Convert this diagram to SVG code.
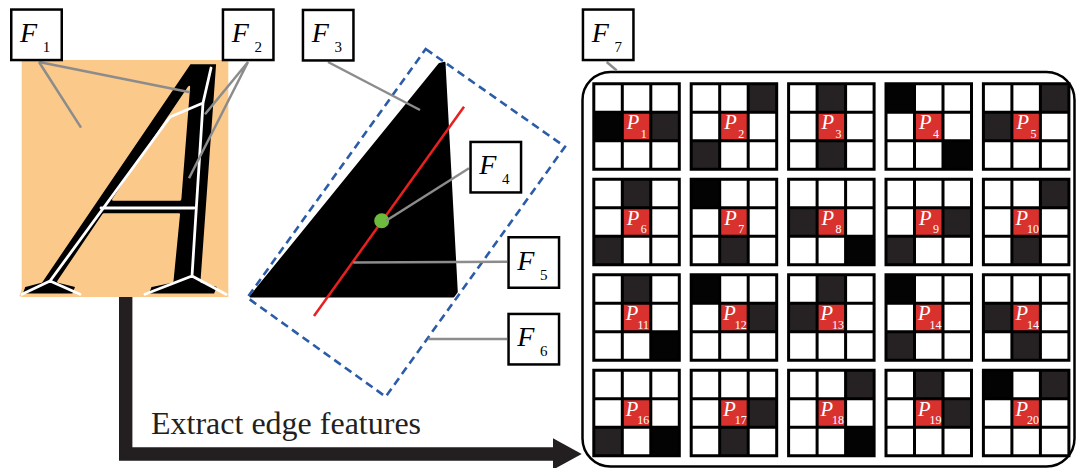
<svg xmlns="http://www.w3.org/2000/svg" xmlns:xlink="http://www.w3.org/1999/xlink" width="1076" height="468" viewBox="0 0 1076 468">
  <style>
    .box { fill: #fff; stroke: #000; stroke-width: 2.5; }
    .fl { font-family: "Liberation Serif", "Times New Roman", serif; font-style: italic; font-size: 28px; fill: #000; }
    .fs { font-style: normal; font-size: 15px; text-anchor: middle; }
    .lead { stroke: #8c8c8c; stroke-width: 2.5; fill: none; }
    .skel { stroke: #fff; stroke-width: 2.8; fill: none; stroke-linejoin: round; stroke-linecap: round; }
    .w { fill: #fff; }
    .d { fill: #262223; }
    .k { fill: #030303; }
    .c { fill: #d8312e; }
    .pl { font-family: "Liberation Serif", "Times New Roman", serif; font-style: italic; font-size: 20.5px; fill: #fff; }
    .ps { font-style: normal; font-size: 12px; text-anchor: middle; }
  </style>
  <defs>
    <!-- 3x3 cell frame of one pattern block -->
    <path id="grid" d="M0,0H85.5V85.5H0Z M28.5,0V85.5 M57,0V85.5 M0,28.5H85.5 M0,57H85.5" fill="none" stroke="#000" stroke-width="3"/>
    <!-- label box frame -->
    <rect id="lbox" class="box" x="1.25" y="1.25" width="50.5" height="50.5"/>
  </defs>

  <rect width="1076" height="468" fill="#fff"/>

  <!-- glyph with its skeleton; the orange stroke slims the glyph a little -->
  <g id="letter-A">
    <rect x="21.7" y="60" width="206.6" height="237" fill="#fbc98a"/>
    <text transform="matrix(0.83,0,-0.235,1,36.9,295)" font-family="Liberation Serif, Times New Roman, serif" font-style="italic" font-size="352" fill="#000" stroke="#fbc98a" stroke-width="3" stroke-linejoin="round">A</text>
    <path class="skel" d="M50,281 L170,117 L203,103 L211,68 M203,103 L192,276 M101,208 H194 M50,281 L22,294.3 M50,281 L80,294.3 M192,276 L145,294.3 M192,276 L226,294.3"/>
  </g>

  <!-- stroke region, its axis, centre and bounding box -->
  <g id="stroke-shape">
    <polygon points="439.5,64 444.5,62.8 456.8,292 453.5,296.5 250.5,296.5" fill="#000" stroke="#000" stroke-width="2" stroke-linejoin="round"/>
    <line x1="314" y1="316" x2="464" y2="106.7" stroke="#e8201f" stroke-width="2.5"/>
    <circle cx="381.7" cy="220.7" r="7.5" fill="#6cbb3c"/>
    <polygon points="425.7,49 565,146.7 385.7,396.7 247.3,297.7" fill="none" stroke="#2b5ca8" stroke-width="2.6" stroke-dasharray="8,5"/>
  </g>

  <!-- pattern panel -->
  <g id="pattern-panel">
    <rect x="582.5" y="72" width="492" height="394.5" rx="28" ry="28" fill="none" stroke="#000" stroke-width="2.5"/>

    <g id="pat-01" transform="translate(593.8,83.8)">
      <rect class="w" width="85.5" height="85.5"/>
      <rect class="k" x="0" y="28.5" width="28.5" height="28.5"/>
      <rect class="d" x="57" y="28.5" width="28.5" height="28.5"/>
      <rect class="c" x="28.5" y="28.5" width="28.5" height="28.5"/>
      <use xlink:href="#grid"/>
      <text class="pl" x="33" y="45.5">P<tspan class="ps" x="50" y="54">1</tspan></text>
    </g>
    <g id="pat-02" transform="translate(691.2,83.8)">
      <rect class="w" width="85.5" height="85.5"/>
      <rect class="d" x="57" y="0" width="28.5" height="28.5"/>
      <rect class="d" x="0" y="57" width="28.5" height="28.5"/>
      <rect class="c" x="28.5" y="28.5" width="28.5" height="28.5"/>
      <use xlink:href="#grid"/>
      <text class="pl" x="33" y="45.5">P<tspan class="ps" x="50" y="54">2</tspan></text>
    </g>
    <g id="pat-03" transform="translate(788.6,83.8)">
      <rect class="w" width="85.5" height="85.5"/>
      <rect class="d" x="28.5" y="0" width="28.5" height="28.5"/>
      <rect class="d" x="28.5" y="57" width="28.5" height="28.5"/>
      <rect class="c" x="28.5" y="28.5" width="28.5" height="28.5"/>
      <use xlink:href="#grid"/>
      <text class="pl" x="33" y="45.5">P<tspan class="ps" x="50" y="54">3</tspan></text>
    </g>
    <g id="pat-04" transform="translate(886,83.8)">
      <rect class="w" width="85.5" height="85.5"/>
      <rect class="k" x="0" y="0" width="28.5" height="28.5"/>
      <rect class="k" x="57" y="57" width="28.5" height="28.5"/>
      <rect class="c" x="28.5" y="28.5" width="28.5" height="28.5"/>
      <use xlink:href="#grid"/>
      <text class="pl" x="33" y="45.5">P<tspan class="ps" x="50" y="54">4</tspan></text>
    </g>
    <g id="pat-05" transform="translate(983.4,83.8)">
      <rect class="w" width="85.5" height="85.5"/>
      <rect class="d" x="57" y="0" width="28.5" height="28.5"/>
      <rect class="d" x="0" y="28.5" width="28.5" height="28.5"/>
      <rect class="c" x="28.5" y="28.5" width="28.5" height="28.5"/>
      <use xlink:href="#grid"/>
      <text class="pl" x="33" y="45.5">P<tspan class="ps" x="50" y="54">5</tspan></text>
    </g>

    <g id="pat-06" transform="translate(593.8,179.3)">
      <rect class="w" width="85.5" height="85.5"/>
      <rect class="d" x="28.5" y="0" width="28.5" height="28.5"/>
      <rect class="d" x="0" y="57" width="28.5" height="28.5"/>
      <rect class="c" x="28.5" y="28.5" width="28.5" height="28.5"/>
      <use xlink:href="#grid"/>
      <text class="pl" x="33" y="45.5">P<tspan class="ps" x="50" y="54">6</tspan></text>
    </g>
    <g id="pat-07" transform="translate(691.2,179.3)">
      <rect class="w" width="85.5" height="85.5"/>
      <rect class="k" x="0" y="0" width="28.5" height="28.5"/>
      <rect class="d" x="28.5" y="57" width="28.5" height="28.5"/>
      <rect class="c" x="28.5" y="28.5" width="28.5" height="28.5"/>
      <use xlink:href="#grid"/>
      <text class="pl" x="33" y="45.5">P<tspan class="ps" x="50" y="54">7</tspan></text>
    </g>
    <g id="pat-08" transform="translate(788.6,179.3)">
      <rect class="w" width="85.5" height="85.5"/>
      <rect class="d" x="0" y="28.5" width="28.5" height="28.5"/>
      <rect class="k" x="57" y="57" width="28.5" height="28.5"/>
      <rect class="c" x="28.5" y="28.5" width="28.5" height="28.5"/>
      <use xlink:href="#grid"/>
      <text class="pl" x="33" y="45.5">P<tspan class="ps" x="50" y="54">8</tspan></text>
    </g>
    <g id="pat-09" transform="translate(886,179.3)">
      <rect class="w" width="85.5" height="85.5"/>
      <rect class="d" x="57" y="28.5" width="28.5" height="28.5"/>
      <rect class="d" x="0" y="57" width="28.5" height="28.5"/>
      <rect class="c" x="28.5" y="28.5" width="28.5" height="28.5"/>
      <use xlink:href="#grid"/>
      <text class="pl" x="33" y="45.5">P<tspan class="ps" x="50" y="54">9</tspan></text>
    </g>
    <g id="pat-10" transform="translate(983.4,179.3)">
      <rect class="w" width="85.5" height="85.5"/>
      <rect class="d" x="57" y="0" width="28.5" height="28.5"/>
      <rect class="d" x="28.5" y="57" width="28.5" height="28.5"/>
      <rect class="c" x="28.5" y="28.5" width="28.5" height="28.5"/>
      <use xlink:href="#grid"/>
      <text class="pl" x="32" y="45.5">P<tspan class="ps" x="49.5" y="54">10</tspan></text>
    </g>

    <g id="pat-11" transform="translate(593.8,274.8)">
      <rect class="w" width="85.5" height="85.5"/>
      <rect class="d" x="28.5" y="0" width="28.5" height="28.5"/>
      <rect class="k" x="57" y="57" width="28.5" height="28.5"/>
      <rect class="c" x="28.5" y="28.5" width="28.5" height="28.5"/>
      <use xlink:href="#grid"/>
      <text class="pl" x="32" y="45.5">P<tspan class="ps" x="49.5" y="54">11</tspan></text>
    </g>
    <g id="pat-12" transform="translate(691.2,274.8)">
      <rect class="w" width="85.5" height="85.5"/>
      <rect class="k" x="0" y="0" width="28.5" height="28.5"/>
      <rect class="d" x="57" y="28.5" width="28.5" height="28.5"/>
      <rect class="c" x="28.5" y="28.5" width="28.5" height="28.5"/>
      <use xlink:href="#grid"/>
      <text class="pl" x="32" y="45.5">P<tspan class="ps" x="49.5" y="54">12</tspan></text>
    </g>
    <g id="pat-13" transform="translate(788.6,274.8)">
      <rect class="w" width="85.5" height="85.5"/>
      <rect class="d" x="28.5" y="0" width="28.5" height="28.5"/>
      <rect class="d" x="0" y="28.5" width="28.5" height="28.5"/>
      <rect class="c" x="28.5" y="28.5" width="28.5" height="28.5"/>
      <use xlink:href="#grid"/>
      <text class="pl" x="32" y="45.5">P<tspan class="ps" x="49.5" y="54">13</tspan></text>
    </g>
    <g id="pat-14" transform="translate(886,274.8)">
      <rect class="w" width="85.5" height="85.5"/>
      <rect class="k" x="0" y="0" width="28.5" height="28.5"/>
      <rect class="d" x="0" y="57" width="28.5" height="28.5"/>
      <rect class="c" x="28.5" y="28.5" width="28.5" height="28.5"/>
      <use xlink:href="#grid"/>
      <text class="pl" x="32" y="45.5">P<tspan class="ps" x="49.5" y="54">14</tspan></text>
    </g>
    <g id="pat-15" transform="translate(983.4,274.8)">
      <rect class="w" width="85.5" height="85.5"/>
      <rect class="d" x="0" y="28.5" width="28.5" height="28.5"/>
      <rect class="d" x="28.5" y="57" width="28.5" height="28.5"/>
      <rect class="c" x="28.5" y="28.5" width="28.5" height="28.5"/>
      <use xlink:href="#grid"/>
      <text class="pl" x="32" y="45.5">P<tspan class="ps" x="49.5" y="54">14</tspan></text>
    </g>

    <g id="pat-16" transform="translate(593.8,370.3)">
      <rect class="w" width="85.5" height="85.5"/>
      <rect class="d" x="0" y="57" width="28.5" height="28.5"/>
      <rect class="k" x="57" y="57" width="28.5" height="28.5"/>
      <rect class="c" x="28.5" y="28.5" width="28.5" height="28.5"/>
      <use xlink:href="#grid"/>
      <text class="pl" x="32" y="45.5">P<tspan class="ps" x="49.5" y="54">16</tspan></text>
    </g>
    <g id="pat-17" transform="translate(691.2,370.3)">
      <rect class="w" width="85.5" height="85.5"/>
      <rect class="d" x="57" y="28.5" width="28.5" height="28.5"/>
      <rect class="d" x="28.5" y="57" width="28.5" height="28.5"/>
      <rect class="c" x="28.5" y="28.5" width="28.5" height="28.5"/>
      <use xlink:href="#grid"/>
      <text class="pl" x="32" y="45.5">P<tspan class="ps" x="49.5" y="54">17</tspan></text>
    </g>
    <g id="pat-18" transform="translate(788.6,370.3)">
      <rect class="w" width="85.5" height="85.5"/>
      <rect class="d" x="57" y="0" width="28.5" height="28.5"/>
      <rect class="k" x="57" y="57" width="28.5" height="28.5"/>
      <rect class="c" x="28.5" y="28.5" width="28.5" height="28.5"/>
      <use xlink:href="#grid"/>
      <text class="pl" x="32" y="45.5">P<tspan class="ps" x="49.5" y="54">18</tspan></text>
    </g>
    <g id="pat-19" transform="translate(886,370.3)">
      <rect class="w" width="85.5" height="85.5"/>
      <rect class="d" x="28.5" y="0" width="28.5" height="28.5"/>
      <rect class="d" x="57" y="28.5" width="28.5" height="28.5"/>
      <rect class="c" x="28.5" y="28.5" width="28.5" height="28.5"/>
      <use xlink:href="#grid"/>
      <text class="pl" x="32" y="45.5">P<tspan class="ps" x="49.5" y="54">19</tspan></text>
    </g>
    <g id="pat-20" transform="translate(983.4,370.3)">
      <rect class="w" width="85.5" height="85.5"/>
      <rect class="k" x="0" y="0" width="28.5" height="28.5"/>
      <rect class="d" x="57" y="0" width="28.5" height="28.5"/>
      <rect class="c" x="28.5" y="28.5" width="28.5" height="28.5"/>
      <use xlink:href="#grid"/>
      <text class="pl" x="32" y="45.5">P<tspan class="ps" x="49.5" y="54">20</tspan></text>
    </g>
  </g>

  <!-- connectors: label leaders and the process arrow -->
  <g id="connectors">
    <path class="lead" d="M39,62 L81,127.7 M39,62 L190,92.3"/>
    <path class="lead" d="M248,62 L205,114.3 M248,62 L189,178.3"/>
    <path class="lead" d="M328,62 L420,110"/>
    <path class="lead" d="M469,168.3 L386,220.7"/>
    <path class="lead" d="M507,261.7 L353.3,262.5"/>
    <path class="lead" d="M507,339 L428.3,339"/>
    <path class="lead" d="M606.7,62 L616.7,70.5"/>
    <path d="M125.7,297 V454 H556" fill="none" stroke="#231f20" stroke-width="13.4" stroke-linejoin="miter"/>
    <polygon points="553,438.3 581.7,454 553,469.7" fill="#231f20"/>
  </g>

  <text x="151" y="434" font-family="Liberation Serif, Times New Roman, serif" font-size="32" fill="#231f20">Extract edge features</text>

  <!-- labels -->
  <g id="F1" transform="translate(10,8.3)"><use xlink:href="#lbox"/><text class="fl" x="10" y="33.5">F<tspan class="fs" x="36.5" y="43.5">1</tspan></text></g>
  <g id="F2" transform="translate(221.7,8.3)"><use xlink:href="#lbox"/><text class="fl" x="10" y="33.5">F<tspan class="fs" x="36.5" y="43.5">2</tspan></text></g>
  <g id="F3" transform="translate(301.7,8.7)"><use xlink:href="#lbox"/><text class="fl" x="10" y="33.5">F<tspan class="fs" x="36.5" y="43.5">3</tspan></text></g>
  <g id="F4" transform="translate(469.3,140.7)"><use xlink:href="#lbox"/><text class="fl" x="10" y="33.5">F<tspan class="fs" x="36.5" y="43.5">4</tspan></text></g>
  <g id="F5" transform="translate(507.3,236)"><use xlink:href="#lbox"/><text class="fl" x="10" y="33.5">F<tspan class="fs" x="36.5" y="43.5">5</tspan></text></g>
  <g id="F6" transform="translate(507.3,312.7)"><use xlink:href="#lbox"/><text class="fl" x="10" y="33.5">F<tspan class="fs" x="36.5" y="43.5">6</tspan></text></g>
  <g id="F7" transform="translate(581.7,8.3)"><use xlink:href="#lbox"/><text class="fl" x="10" y="33.5">F<tspan class="fs" x="36.5" y="43.5">7</tspan></text></g>
</svg>
